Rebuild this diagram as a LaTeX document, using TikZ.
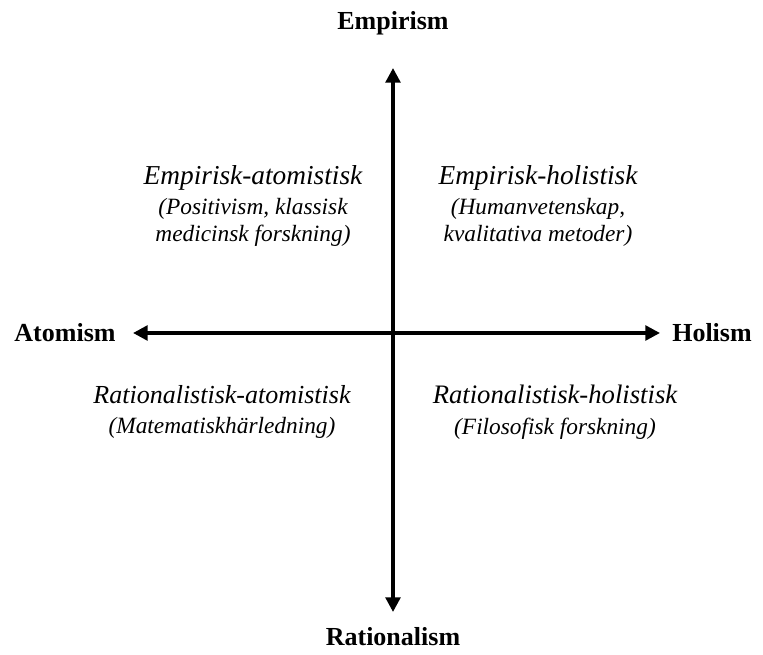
\documentclass[tikz,border=0pt]{standalone}
\usepackage{fontspec}
\setmainfont{Liberation Serif}
\usetikzlibrary{arrows.meta, positioning}

\begin{document}
\begin{tikzpicture}[
    x=0.75pt, y=-0.75pt,
    axis/.style={{Triangle[length=11pt, width=11pt]}-{Triangle[length=11pt, width=11pt]}, line width=2.6pt},
    pole/.style={font=\fontsize{19.5}{23}\selectfont\bfseries, inner sep=0pt},
    quad/.style={align=center, font=\fontsize{17.5}{20}\selectfont\itshape, inner sep=0pt}
]
    \useasboundingbox (0,0) rectangle (763,655);

    % Poles
    \node[pole] (emp) at (393,23) {Empirism};
    \node[pole] (rat) at (393,637) {Rationalism};
    \node[pole] (ato) at (65,333) {Atomism};
    \node[pole] (hol) at (712,333) {Holism};

    % Axes
    \coordinate (top) at (393,68);
    \coordinate (bot) at (393,612);
    \coordinate (lft) at (133,333);
    \coordinate (rgt) at (660,333);
    \draw[axis] (bot) -- (top);
    \draw[axis] (lft) -- (rgt);

    % Quadrants
    \node[quad, anchor=north] (ea) at (253,165) {{\fontsize{20.5}{24}\selectfont Empirisk-atomistisk}\\[3pt](Positivism, klassisk\\medicinsk forskning)};
    \node[quad, anchor=north] (eh) at (538,165) {{\fontsize{20.5}{24}\selectfont Empirisk-holistisk}\\[3pt](Humanvetenskap,\\kvalitativa metoder)};
    \node[quad, anchor=north] (ra) at (222,385) {{\fontsize{19.5}{24}\selectfont Rationalistisk-atomistisk}\\[3pt](Matematiskhärledning)};
    \node[quad, anchor=north] (rh) at (555,385) {{\fontsize{20}{24}\selectfont Rationalistisk-holistisk}\\[3pt](Filosofisk forskning)};
\end{tikzpicture}
\end{document}
